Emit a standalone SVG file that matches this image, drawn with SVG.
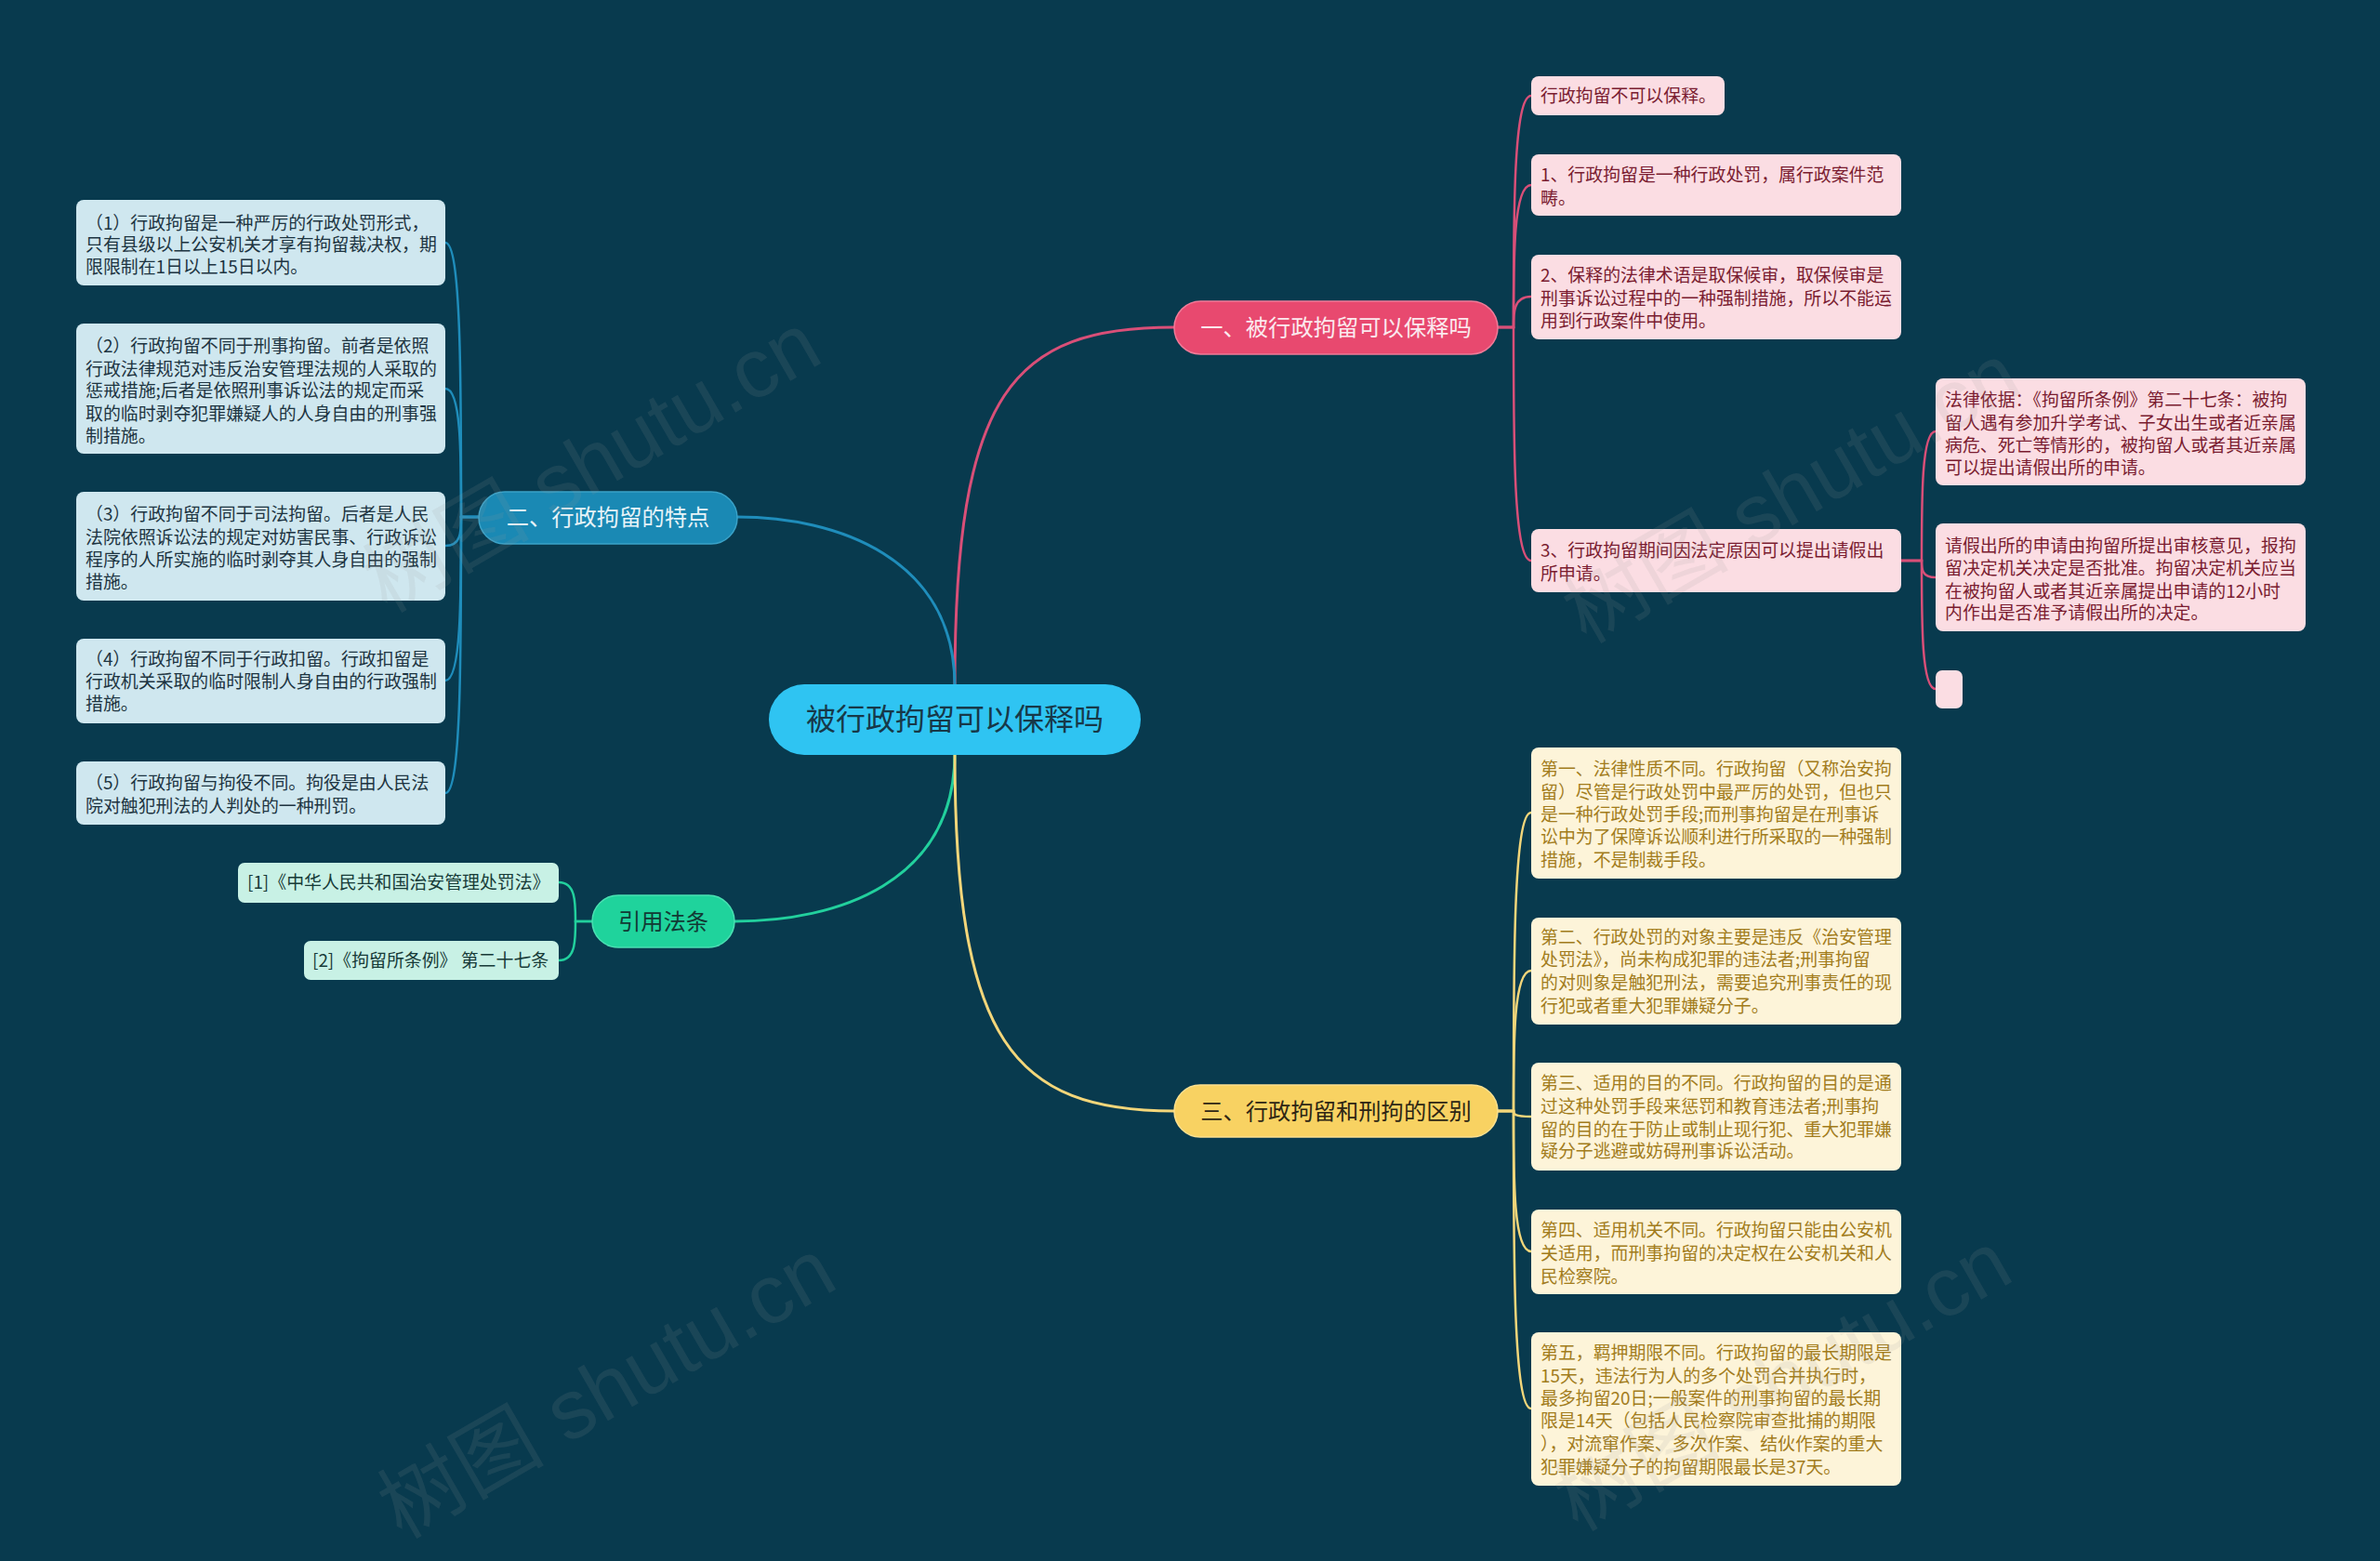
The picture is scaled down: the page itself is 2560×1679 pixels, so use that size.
<svg xmlns="http://www.w3.org/2000/svg" width="2560" height="1679" viewBox="0 0 2560 1679">
<style>
text{font-family:"Noto Sans CJK SC","Noto Sans",sans-serif}
.lf{font-size:18.9px}
.pk{fill:#fbdde3}
.pkt{fill:#7a1c30}
.bl{fill:#cfe7ef}
.blt{fill:#1d3441}
.gr{fill:#c8f1e5}
.grt{fill:#173b38}
.yl{fill:#fdf4d9}
.ylt{fill:#a27c1c}
.br{font-size:24.3px;text-anchor:middle}
.c{fill:none;stroke-linecap:round}
.cp{stroke:#d94f78}
.cb{stroke:#1f8dbb}
.cg{stroke:#22d09d}
.cy{stroke:#f3d67a}
.wm{font-size:90px;fill:#9a9a9a;fill-opacity:0.13;font-family:"Liberation Sans","Noto Sans CJK SC",sans-serif}
</style>
<rect width="2560" height="1679" fill="#083a4e"/>
<g id="connectors">
<path class="c cp" stroke-width="3" d="M1027 738 C1027 420 1090 352 1263 352"/>
<path class="c cb" stroke-width="3" d="M1027 738 C1027 600 900 556 793 556"/>
<path class="c cg" stroke-width="3" d="M1027 810 C1027 950 900 991 790 991"/>
<path class="c cy" stroke-width="3" d="M1027 810 C1027 1120 1090 1195 1263 1195"/>
<g stroke-width="2.5">
<path class="c cp" d="M1611 352 H1628 C1628 228 1628 103 1647 103"/>
<path class="c cp" d="M1611 352 H1628 C1628 275 1628 199 1647 199"/>
<path class="c cp" d="M1611 352 H1628 C1628 336 1628 319 1647 319"/>
<path class="c cp" d="M1611 352 H1628 C1628 476 1628 603 1647 603"/>
<path class="c cp" d="M2045 603 H2067 C2067 534 2067 464 2082 464"/>
<path class="c cp" d="M2045 603 H2067 C2067 612 2067 621 2082 621"/>
<path class="c cp" d="M2045 603 H2067 C2067 672 2067 741 2082 741"/>
<path class="c cb" d="M515 556 H496 C496 409 496 261 479 261"/>
<path class="c cb" d="M515 556 H496 C496 487 496 418 479 418"/>
<path class="c cb" d="M515 556 H496 C496 572 496 587 479 587"/>
<path class="c cb" d="M515 556 H496 C496 644 496 732 479 732"/>
<path class="c cb" d="M515 556 H496 C496 705 496 853 479 853"/>
<path class="c cg" d="M637 991 H619 C619 970 619 949 601 949"/>
<path class="c cg" d="M637 991 H619 C619 1012 619 1033 601 1033"/>
<path class="c cy" d="M1611 1195 H1628 C1628 1035 1628 874 1647 874"/>
<path class="c cy" d="M1611 1195 H1628 C1628 1120 1628 1044 1647 1044"/>
<path class="c cy" d="M1611 1195 H1628 C1628 1198 1628 1201 1647 1201"/>
<path class="c cy" d="M1611 1195 H1628 C1628 1270 1628 1346 1647 1346"/>
<path class="c cy" d="M1611 1195 H1628 C1628 1355 1628 1515 1647 1515"/>
</g>
</g>
<g id="root">
<rect x="827" y="736" width="400" height="76" rx="38" fill="#2fc4f2"/>
<text x="1027" y="785" font-size="32" text-anchor="middle" fill="#173848">被行政拘留可以保释吗</text>
</g>
<g id="b1">
<rect x="1263" y="324" width="348" height="57" rx="28.5" fill="#e8496f" stroke="#f07a98" stroke-width="1.5"/>
<text class="br" x="1437" y="361" fill="#fbe9ee">一、被行政拘留可以保释吗</text>
</g>
<g id="b2">
<rect x="515" y="529" width="278" height="56" rx="28" fill="#1a89b4" stroke="#3aa2c8" stroke-width="1.5"/>
<text class="br" x="654" y="565" fill="#e6f3f8">二、行政拘留的特点</text>
</g>
<g id="b3">
<rect x="637" y="963" width="153" height="56" rx="28" fill="#1fd39c" stroke="#4ae0b2" stroke-width="1.5"/>
<text class="br" x="713.5" y="1000" fill="#123a34">引用法条</text>
</g>
<g id="b4">
<rect x="1263" y="1167" width="348" height="56" rx="28" fill="#f8d262" stroke="#fbe08e" stroke-width="1.5"/>
<text class="br" x="1437" y="1204" fill="#2e2614">三、行政拘留和刑拘的区别</text>
</g>
<g id="p0"><rect class="pk" x="1647" y="82" width="208" height="42" rx="8"/>
<text class="lf pkt" x="1657" y="110">行政拘留不可以保释。</text></g>
<g id="p1"><rect class="pk" x="1647" y="166" width="398" height="66" rx="8"/>
<text class="lf pkt" x="1657" y="195">1、行政拘留是一种行政处罚，属行政案件范</text>
<text class="lf pkt" x="1657" y="220">畴。</text></g>
<g id="p2"><rect class="pk" x="1647" y="274" width="398" height="91" rx="8"/>
<text class="lf pkt" x="1657" y="303">2、保释的法律术语是取保候审，取保候审是</text>
<text class="lf pkt" x="1657" y="328">刑事诉讼过程中的一种强制措施，所以不能运</text>
<text class="lf pkt" x="1657" y="352">用到行政案件中使用。</text></g>
<g id="p3"><rect class="pk" x="1647" y="569" width="398" height="68" rx="8"/>
<text class="lf pkt" x="1657" y="599">3、行政拘留期间因法定原因可以提出请假出</text>
<text class="lf pkt" x="1657" y="624">所申请。</text></g>
<g id="p31"><rect class="pk" x="2082" y="407" width="398" height="115" rx="8"/>
<text class="lf pkt" x="2092" y="437">法律依据：《拘留所条例》第二十七条：被拘</text>
<text class="lf pkt" x="2092" y="462">留人遇有参加升学考试、子女出生或者近亲属</text>
<text class="lf pkt" x="2092" y="486">病危、死亡等情形的，被拘留人或者其近亲属</text>
<text class="lf pkt" x="2092" y="510">可以提出请假出所的申请。</text></g>
<g id="p32"><rect class="pk" x="2082" y="563" width="398" height="116" rx="8"/>
<text class="lf pkt" x="2092" y="594">请假出所的申请由拘留所提出审核意见，报拘</text>
<text class="lf pkt" x="2092" y="618">留决定机关决定是否批准。拘留决定机关应当</text>
<text class="lf pkt" x="2092" y="643">在被拘留人或者其近亲属提出申请的12小时</text>
<text class="lf pkt" x="2092" y="666">内作出是否准予请假出所的决定。</text></g>
<g id="p33"><rect class="pk" x="2082" y="721" width="29" height="41" rx="7"/></g>
<g id="q1"><rect class="bl" x="82" y="215" width="397" height="92" rx="8"/>
<text class="lf blt" x="92" y="247">（1）行政拘留是一种严厉的行政处罚形式，</text>
<text class="lf blt" x="92" y="270">只有县级以上公安机关才享有拘留裁决权，期</text>
<text class="lf blt" x="92" y="294">限限制在1日以上15日以内。</text></g>
<g id="q2"><rect class="bl" x="82" y="348" width="397" height="140" rx="8"/>
<text class="lf blt" x="92" y="379">（2）行政拘留不同于刑事拘留。前者是依照</text>
<text class="lf blt" x="92" y="404">行政法律规范对违反治安管理法规的人采取的</text>
<text class="lf blt" x="92" y="427">惩戒措施;后者是依照刑事诉讼法的规定而采</text>
<text class="lf blt" x="92" y="452">取的临时剥夺犯罪嫌疑人的人身自由的刑事强</text>
<text class="lf blt" x="92" y="476">制措施。</text></g>
<g id="q3"><rect class="bl" x="82" y="529" width="397" height="117" rx="8"/>
<text class="lf blt" x="92" y="560">（3）行政拘留不同于司法拘留。后者是人民</text>
<text class="lf blt" x="92" y="585">法院依照诉讼法的规定对妨害民事、行政诉讼</text>
<text class="lf blt" x="92" y="609">程序的人所实施的临时剥夺其人身自由的强制</text>
<text class="lf blt" x="92" y="633">措施。</text></g>
<g id="q4"><rect class="bl" x="82" y="687" width="397" height="91" rx="8"/>
<text class="lf blt" x="92" y="716">（4）行政拘留不同于行政扣留。行政扣留是</text>
<text class="lf blt" x="92" y="740">行政机关采取的临时限制人身自由的行政强制</text>
<text class="lf blt" x="92" y="764">措施。</text></g>
<g id="q5"><rect class="bl" x="82" y="819" width="397" height="68" rx="8"/>
<text class="lf blt" x="92" y="849">（5）行政拘留与拘役不同。拘役是由人民法</text>
<text class="lf blt" x="92" y="874">院对触犯刑法的人判处的一种刑罚。</text></g>
<g id="g1"><rect class="gr" x="256" y="928" width="345" height="43" rx="7"/>
<text class="lf grt" x="266" y="956">[1]《中华人民共和国治安管理处罚法》</text></g>
<g id="g2"><rect class="gr" x="327" y="1012" width="274" height="42" rx="7"/>
<text class="lf grt" x="336" y="1040">[2]《拘留所条例》 第二十七条</text></g>
<g id="y1"><rect class="yl" x="1647" y="804" width="398" height="141" rx="8"/>
<text class="lf ylt" x="1657" y="834">第一、法律性质不同。行政拘留（又称治安拘</text>
<text class="lf ylt" x="1657" y="859">留）尽管是行政处罚中最严厉的处罚，但也只</text>
<text class="lf ylt" x="1657" y="883">是一种行政处罚手段;而刑事拘留是在刑事诉</text>
<text class="lf ylt" x="1657" y="907">讼中为了保障诉讼顺利进行所采取的一种强制</text>
<text class="lf ylt" x="1657" y="932">措施，不是制裁手段。</text></g>
<g id="y2"><rect class="yl" x="1647" y="987" width="398" height="115" rx="8"/>
<text class="lf ylt" x="1657" y="1015">第二、行政处罚的对象主要是违反《治安管理</text>
<text class="lf ylt" x="1657" y="1039">处罚法》，尚未构成犯罪的违法者;刑事拘留</text>
<text class="lf ylt" x="1657" y="1064">的对则象是触犯刑法，需要追究刑事责任的现</text>
<text class="lf ylt" x="1657" y="1089">行犯或者重大犯罪嫌疑分子。</text></g>
<g id="y3"><rect class="yl" x="1647" y="1143" width="398" height="116" rx="8"/>
<text class="lf ylt" x="1657" y="1172">第三、适用的目的不同。行政拘留的目的是通</text>
<text class="lf ylt" x="1657" y="1197">过这种处罚手段来惩罚和教育违法者;刑事拘</text>
<text class="lf ylt" x="1657" y="1222">留的目的在于防止或制止现行犯、重大犯罪嫌</text>
<text class="lf ylt" x="1657" y="1245">疑分子逃避或妨碍刑事诉讼活动。</text></g>
<g id="y4"><rect class="yl" x="1647" y="1301" width="398" height="91" rx="8"/>
<text class="lf ylt" x="1657" y="1330">第四、适用机关不同。行政拘留只能由公安机</text>
<text class="lf ylt" x="1657" y="1355">关适用，而刑事拘留的决定权在公安机关和人</text>
<text class="lf ylt" x="1657" y="1380">民检察院。</text></g>
<g id="y5"><rect class="yl" x="1647" y="1433" width="398" height="165" rx="8"/>
<text class="lf ylt" x="1657" y="1462">第五，羁押期限不同。行政拘留的最长期限是</text>
<text class="lf ylt" x="1657" y="1487">15天，违法行为人的多个处罚合并执行时，</text>
<text class="lf ylt" x="1657" y="1511">最多拘留20日;一般案件的刑事拘留的最长期</text>
<text class="lf ylt" x="1657" y="1535">限是14天（包括人民检察院审查批捕的期限</text>
<text class="lf ylt" x="1657" y="1560">），对流窜作案、多次作案、结伙作案的重大</text>
<text class="lf ylt" x="1657" y="1585">犯罪嫌疑分子的拘留期限最长是37天。</text></g>
<g id="watermarks">
<text class="wm" x="637" y="528" text-anchor="middle" transform="rotate(-30 637 498)">树图 shutu.cn</text>
<text class="wm" x="1927" y="561" text-anchor="middle" transform="rotate(-30 1927 531)">树图 shutu.cn</text>
<text class="wm" x="653" y="1524" text-anchor="middle" transform="rotate(-30 653 1494)">树图 shutu.cn</text>
<text class="wm" x="1918" y="1516" text-anchor="middle" transform="rotate(-30 1918 1486)">树图 shutu.cn</text>
</g>
</svg>
